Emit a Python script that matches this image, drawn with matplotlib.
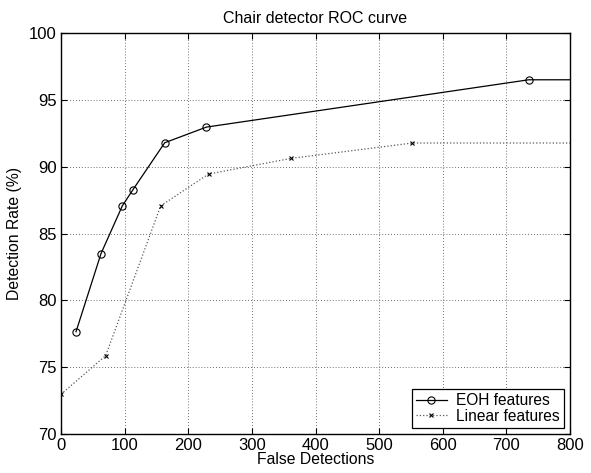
import matplotlib
matplotlib.use("Agg")
import matplotlib.pyplot as plt

eoh_x = [23.6, 62.9, 96.4, 112.7, 163, 228.5, 735, 900]
eoh_y = [77.65, 83.5, 87.07, 88.25, 91.79, 92.96, 96.5, 96.5]
lin_x = [0, 70.2, 156.7, 232, 361.6, 552.4, 900]
lin_y = [72.97, 75.86, 87.07, 89.45, 90.62, 91.77, 91.77]
xticks = [0, 100, 200, 300, 400, 500, 600, 700, 800]
yticks = [70, 75, 80, 85, 90, 95, 100]

plt.rcParams['font.family'] = ['Liberation Sans', 'DejaVu Sans']
fig = plt.figure(figsize=(5.91, 4.73), dpi=100)
ax = fig.add_axes([61/591, 1-434/473, (570-61)/591, (434-33)/473])

ax.plot(eoh_x, eoh_y, '-', color='black', lw=0.9, marker='o', ms=5.2,
        mfc='none', mec='black', mew=0.8, label='EOH features')
ax.plot(lin_x, lin_y, ':', color='0.35', lw=0.9, marker='x', ms=3.5,
        mec='black', mew=0.8, label='Linear features')

ax.set_xlim(0, 800)
ax.set_ylim(70, 100)
ax.set_xticks(xticks)
ax.set_yticks(yticks)
ax.tick_params(direction='in', top=True, right=True, labelsize=12, length=4,
               width=0.8, pad=3)
ax.grid(True, linestyle=(0, (1, 2.5)), color='0.25', lw=0.6)
for s in ax.spines.values():
    s.set_linewidth(1.0)

ax.set_title('Chair detector ROC curve', fontsize=11.5, pad=7)
ax.set_xlabel('False Detections', fontsize=11.3, labelpad=-1)
ax.set_ylabel('Detection Rate (%)', fontsize=11.3, labelpad=5)

leg = ax.legend(loc='lower right', fontsize=11.2, fancybox=False, edgecolor='black',
                framealpha=1, borderaxespad=0.4, handlelength=2.0,
                handletextpad=0.6, labelspacing=0.05, borderpad=0.25)
leg.get_frame().set_linewidth(0.9)

fig.savefig('out.png', dpi=100)
